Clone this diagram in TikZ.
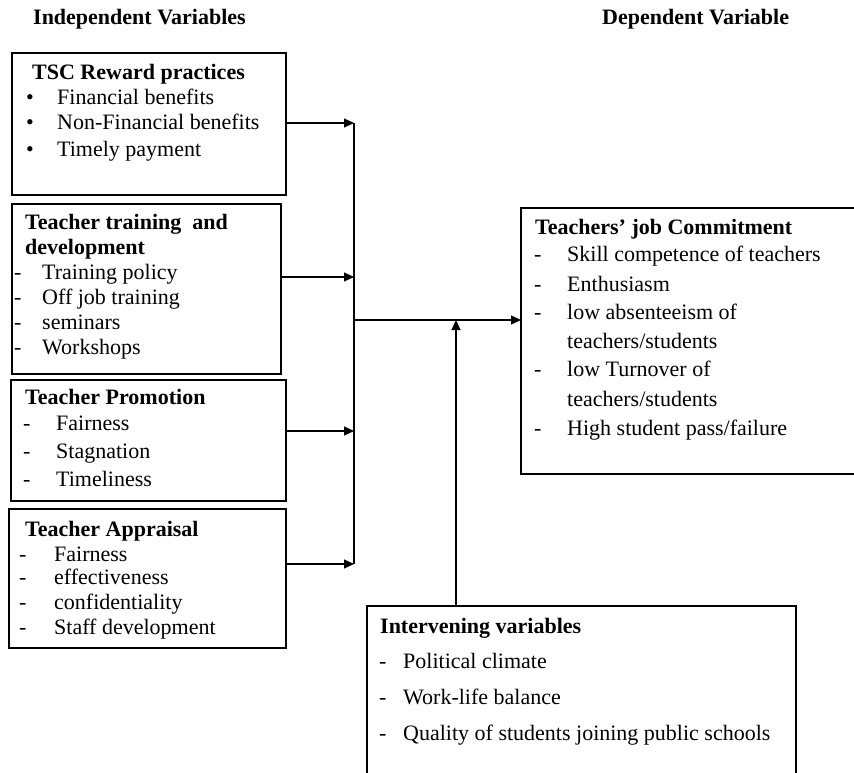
\documentclass[tikz,border=0pt]{standalone}
\usepackage{fontspec}
\setmainfont{Liberation Serif}
\usetikzlibrary{arrows.meta}
\begin{document}
\begin{tikzpicture}[x=1pt,y=-1pt,
 box/.style={draw, line width=1.3pt, inner sep=0pt, outer sep=0pt, anchor=north west},
 txt/.style={anchor=mid west, inner sep=0pt, yshift=-4pt, font=\fontsize{22}{26}\selectfont},
 hd/.style={anchor=mid west, inner sep=0pt, yshift=-4pt, font=\fontsize{22}{26}\selectfont\bfseries},
 conn/.style={line width=1.2pt},
 arr/.style={conn, -{Triangle[length=10pt,width=9pt]}}]
\useasboundingbox (0,0) rectangle (854,773);
\clip (0,0) rectangle (854,773);
\fill[white] (0,0) rectangle (854,773);

% headers
\node[hd] (hind) at (33,18) {Independent Variables};
\node[hd] (hdep) at (602,18) {Dependent Variable};

% box 1
\node[box, minimum width=274pt, minimum height=142pt] (b1) at (12,53) {};
\node[hd] (b1t) at (32,73) {TSC Reward practices};
\node[txt] (b1m1) at (26,98) {•}; \node[txt] (b1a) at (57,98) {Financial benefits};
\node[txt] (b1m2) at (26,123) {•}; \node[txt] (b1b) at (57,123) {Non-Financial benefits};
\node[txt] (b1m3) at (26,150) {•}; \node[txt] (b1c) at (57,150) {Timely payment};

% box 2
\node[box, minimum width=269pt, minimum height=170pt] (b2) at (12,204) {};
\node[hd] (b2t) at (25,223) {Teacher training\ \ and};
\node[hd] (b2u) at (25,248) {development};
\node[txt] (b2m1) at (14,273) {-}; \node[txt] (b2a) at (42,273) {Training policy};
\node[txt] (b2m2) at (14,298) {-}; \node[txt] (b2b) at (42,298) {Off job training};
\node[txt] (b2m3) at (14,323) {-}; \node[txt] (b2c) at (42,323) {seminars};
\node[txt] (b2m4) at (14,348) {-}; \node[txt] (b2d) at (42,348) {Workshops};

% box 3
\node[box, minimum width=275pt, minimum height=121pt] (b3) at (11,380) {};
\node[hd] (b3t) at (25,398) {Teacher Promotion};
\node[txt] (b3m1) at (23,424) {-}; \node[txt] (b3a) at (56,424) {Fairness};
\node[txt] (b3m2) at (23,452) {-}; \node[txt] (b3b) at (56,452) {Stagnation};
\node[txt] (b3m3) at (23,480) {-}; \node[txt] (b3c) at (56,480) {Timeliness};

% box 4
\node[box, minimum width=277pt, minimum height=139pt] (b4) at (9,509) {};
\node[hd] (b4t) at (25,530) {Teacher Appraisal};
\node[txt] (b4m1) at (19,555) {-}; \node[txt] (b4a) at (54,555) {Fairness};
\node[txt] (b4m2) at (19,578) {-}; \node[txt] (b4b) at (54,578) {effectiveness};
\node[txt] (b4m3) at (19,603) {-}; \node[txt] (b4c) at (54,603) {confidentiality};
\node[txt] (b4m4) at (19,628) {-}; \node[txt] (b4d) at (54,628) {Staff development};

% dependent variable box
\node[box, minimum width=360pt, minimum height=266pt] (dv) at (521,208) {};
\node[hd] (dvt) at (535,228) {Teachers’ job Commitment};
\node[txt] (dvm1) at (534,255) {-}; \node[txt] (dva) at (567,255) {Skill competence of teachers};
\node[txt] (dvm2) at (534,285) {-}; \node[txt] (dvb) at (567,285) {Enthusiasm};
\node[txt] (dvm3) at (534,313) {-}; \node[txt] (dvc) at (567,313) {low absenteeism of};
\node[txt] (dvc2) at (567,342) {teachers/students};
\node[txt] (dvm4) at (534,370) {-}; \node[txt] (dvd) at (567,370) {low Turnover of};
\node[txt] (dvd2) at (567,400) {teachers/students};
\node[txt] (dvm5) at (534,429) {-}; \node[txt] (dve) at (567,429) {High student pass/failure};

% intervening box
\node[box, minimum width=429pt, minimum height=200pt] (iv) at (367,606) {};
\node[hd] (ivt) at (380,627) {Intervening variables};
\node[txt] (ivm1) at (379,662) {-}; \node[txt] (iva) at (403,662) {Political climate};
\node[txt] (ivm2) at (379,698) {-}; \node[txt] (ivb) at (403,698) {Work-life balance};
\node[txt] (ivm3) at (379,734) {-}; \node[txt] (ivc) at (403,734) {Quality of students joining public schools};

% connectors
\coordinate (j1) at (354,123);
\coordinate (j2) at (354,277);
\coordinate (j3) at (354,431);
\coordinate (j4) at (354,564);
\coordinate (m) at (354,320);
\coordinate (k) at (456,320);
\draw[arr] (b1.east |- j1) -- (j1);
\draw[arr] (b2.east |- j2) -- (j2);
\draw[arr] (b3.east |- j3) -- (j3);
\draw[arr] (b4.east |- j4) -- (j4);
\draw[conn] (j1) -- (j4);
\draw[arr] (m) -- (dv.west |- m);
\draw[arr] (k |- iv.north) -- (k);
\end{tikzpicture}
\end{document}
